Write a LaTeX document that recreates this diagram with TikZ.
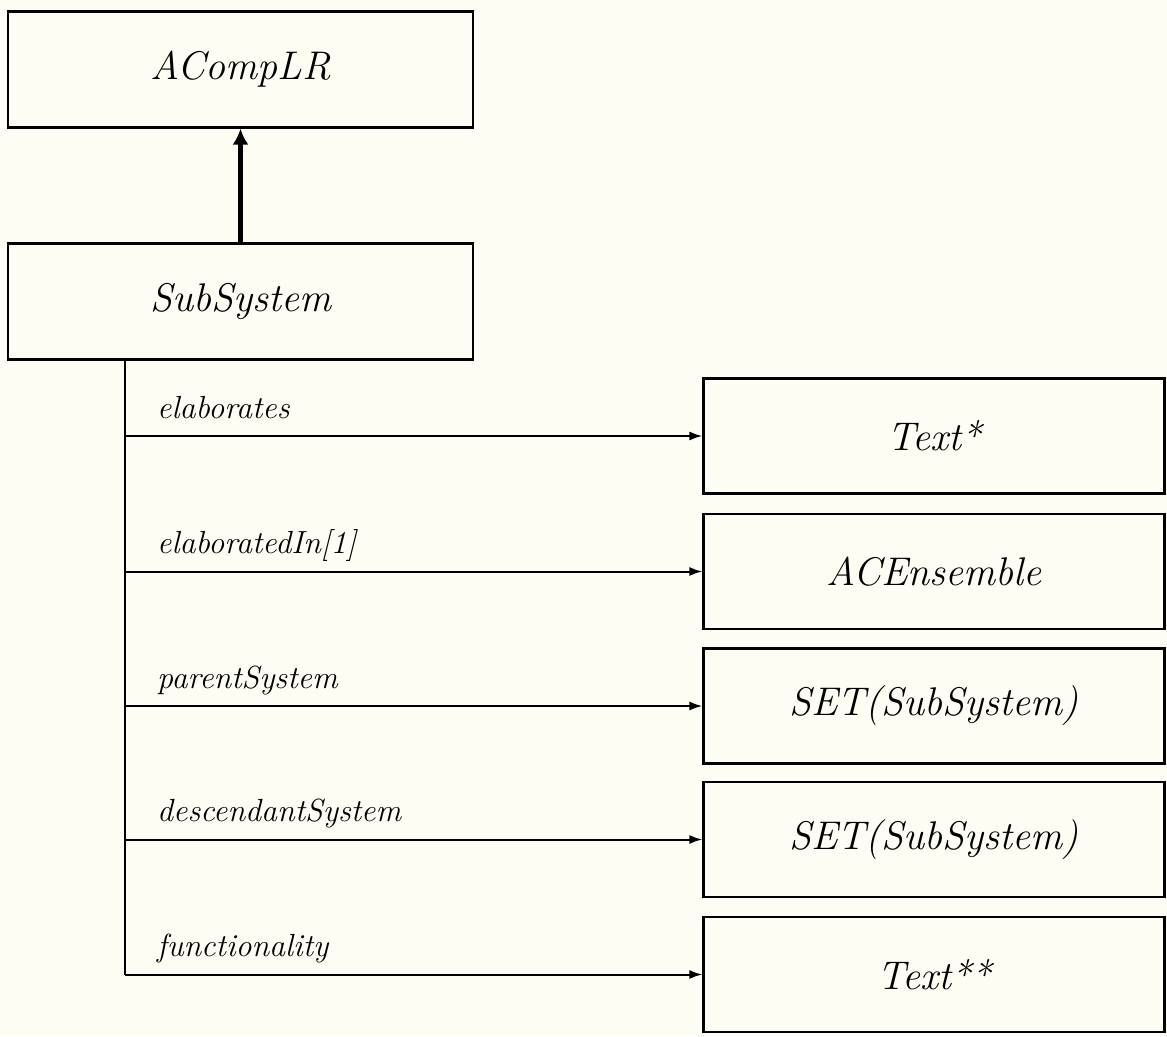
\documentclass[tikz,border=0pt]{standalone}
\usetikzlibrary{arrows.meta}
\definecolor{paper}{RGB}{253,253,243}
\begin{document}
\begin{tikzpicture}[x=1pt,y=-1pt,
  classbox/.style={draw=black,line width=2.2pt,minimum width=465pt,minimum height=116pt,
    inner sep=0pt,font=\fontsize{40}{46}\selectfont\itshape},
  typebox/.style={draw=black,line width=2.2pt,minimum width=461pt,minimum height=115pt,
    inner sep=0pt,font=\fontsize{40}{46}\selectfont\itshape},
  role/.style={anchor=base west,inner sep=0pt,font=\fontsize{32}{38}\selectfont\itshape},
  link/.style={line width=2pt,-{Latex[length=13pt,width=9pt]}},
  inherit/.style={line width=5.5pt,-{Latex[length=16pt,width=16pt]}}]
  % canvas
  \fill[paper] (0,0) rectangle (1167,1036);
  \useasboundingbox (0,0) rectangle (1167,1036);

  % class hierarchy
  \node[classbox] (acomp) at (240.5,69.5) {ACompLR};
  \node[classbox] (sub) at (240.5,301.5) {SubSystem};
  \draw[inherit] (sub.north) -- (acomp.south);

  % attribute types
  \node[typebox] (t1) at (934,436) {Text*};
  \node[typebox] (t2) at (934,571.5) {ACEnsemble};
  \node[typebox] (t3) at (934,706) {SET(SubSystem)};
  \node[typebox] (t4) at (934,839.5) {SET(SubSystem)};
  \node[typebox] (t5) at (934,974.5) {Text**};

  % branch points on the attribute spine
  \coordinate (b1) at (125,436);
  \coordinate (b2) at (125,571.5);
  \coordinate (b3) at (125,706);
  \coordinate (b4) at (125,839.5);
  \coordinate (b5) at (125,974.5);

  \draw[line width=2pt] (sub.south -| b5) -- (b5);
  \draw[link] (b1) -- (t1.west);
  \draw[link] (b2) -- (t2.west);
  \draw[link] (b3) -- (t3.west);
  \draw[link] (b4) -- (t4.west);
  \draw[link] (b5) -- (t5.west);

  % attribute names
  \node[role] (r1) at (157,418) {elaborates};
  \node[role] (r2) at (157,553.5) {elaboratedIn[1]};
  \node[role] (r3) at (157,688) {parentSystem};
  \node[role] (r4) at (157,821.5) {descendantSystem};
  \node[role] (r5) at (157,956.5) {functionality};
\end{tikzpicture}
\end{document}
